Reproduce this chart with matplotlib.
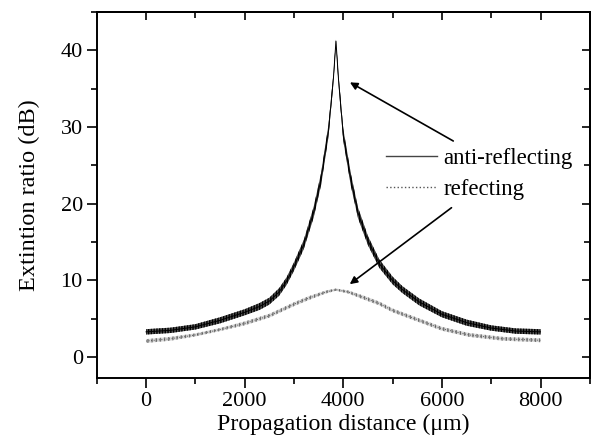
import matplotlib
matplotlib.use("Agg")
import matplotlib.pyplot as plt
from matplotlib.ticker import MultipleLocator

plt.rcParams['font.family'] = ['Liberation Serif', 'DejaVu Serif']

# anti-reflecting curve (centre of the ripple band)
anti_x = [0, 500, 1000, 1500, 2000, 2300, 2500, 2700, 2850, 3000, 3200, 3400, 3550, 3700, 3800,
          3852, 3905, 4000, 4155, 4300, 4500, 4730, 5000, 5200, 5540, 6000, 6500, 7000, 7500, 8000]
anti_y = [3.3, 3.5, 3.95, 4.8, 5.85, 6.6, 7.3, 8.5, 9.9, 11.8, 14.7, 18.9, 23.2, 29.5, 36.3,
          41.2, 36.1, 29.0, 23.1, 18.8, 15.2, 12.2, 10.0, 8.8, 7.2, 5.6, 4.5, 3.8, 3.4, 3.3]
# half height of the ripple band
anti_rip = [0.35, 0.35, 0.35, 0.4, 0.4, 0.45, 0.45, 0.5, 0.5, 0.55, 0.6, 0.7, 0.8, 0.8, 0.6,
            0.2, 0.6, 0.8, 0.8, 0.7, 0.6, 0.55, 0.5, 0.45, 0.45, 0.4, 0.4, 0.35, 0.35, 0.35]

# reflecting curve
refl_x = [0, 500, 1000, 1500, 2000, 2500, 3000, 3300, 3650, 3850, 4100, 4400, 4730,
          5000, 5540, 6000, 6550, 7230, 8000]
refl_y = [2.1, 2.4, 2.9, 3.6, 4.4, 5.4, 6.9, 7.7, 8.5, 8.8, 8.5, 7.8, 7.0,
          6.1, 4.8, 3.7, 2.9, 2.4, 2.2]
refl_rip = [0.25, 0.25, 0.2, 0.2, 0.25, 0.25, 0.25, 0.25, 0.2, 0.15, 0.2, 0.25, 0.25,
            0.25, 0.25, 0.25, 0.25, 0.25, 0.25]

anti_lo = [y - r for y, r in zip(anti_y, anti_rip)]
anti_hi = [y + r for y, r in zip(anti_y, anti_rip)]
refl_lo = [y - r for y, r in zip(refl_y, refl_rip)]
refl_hi = [y + r for y, r in zip(refl_y, refl_rip)]

fig = plt.figure(figsize=(5.91, 4.43), dpi=100)
ax = fig.add_axes([0.1636, 0.147, 0.8344, 0.826])

# ripple bands
ax.fill_between(refl_x, refl_lo, refl_hi, facecolor='#d8d8d8', edgecolor='#777777',
                hatch='||||', lw=0)
ax.plot(refl_x, refl_y, color='#555555', lw=0.7, ls=':')
ax.fill_between(anti_x, anti_lo, anti_hi, facecolor='#555555', edgecolor='black',
                hatch='||||||', lw=0)
ax.plot(anti_x, anti_y, color='black', lw=0.7)

# legend proxies
ax.plot([], [], color='#444444', lw=1.0, label='anti-reflecting')
ax.plot([], [], color='#555555', lw=1.0, ls=':', label='refecting')
ax.legend(loc='center left', bbox_to_anchor=(0.569, 0.557), frameon=False, fontsize=16.5,
          handlelength=2.2, handletextpad=0.3, labelspacing=0.45, borderaxespad=0)

# arrows
ax.annotate('', xy=(4087, 36.0), xytext=(6280, 28.0),
            arrowprops=dict(arrowstyle='-|>', color='black', lw=1.2, mutation_scale=11))
ax.annotate('', xy=(4087, 9.3), xytext=(6240, 19.7),
            arrowprops=dict(arrowstyle='-|>', color='black', lw=1.2, mutation_scale=11))

ax.set_xlim(-1000, 9000)
ax.set_ylim(-2.7, 45)
ax.xaxis.set_major_locator(MultipleLocator(2000))
ax.xaxis.set_minor_locator(MultipleLocator(1000))
ax.yaxis.set_major_locator(MultipleLocator(10))
ax.yaxis.set_minor_locator(MultipleLocator(5))
ax.tick_params(which='both', direction='out', width=1.2, labelsize=16, top=False, right=False)
ax.tick_params(which='major', length=7, pad=3)
ax.tick_params(which='minor', length=4)
for s in ax.spines.values():
    s.set_linewidth(1.4)

# inward ticks on top and right
top = ax.secondary_xaxis('top')
top.xaxis.set_major_locator(MultipleLocator(2000))
top.xaxis.set_minor_locator(MultipleLocator(1000))
top.tick_params(which='both', direction='in', width=1.2, labeltop=False)
top.tick_params(which='major', length=6)
top.tick_params(which='minor', length=4)
top.spines['top'].set_linewidth(1.4)
right = ax.secondary_yaxis('right')
right.yaxis.set_major_locator(MultipleLocator(10))
right.yaxis.set_minor_locator(MultipleLocator(5))
right.tick_params(which='both', direction='in', width=1.2, labelright=False)
right.tick_params(which='major', length=6)
right.tick_params(which='minor', length=4)
right.spines['right'].set_linewidth(1.4)

ax.set_xlabel('Propagation distance (\u03bcm)', fontsize=17.2, labelpad=2)
ax.set_ylabel('Extintion ratio (dB)', fontsize=17.5, labelpad=15)

fig.savefig('out.png', dpi=100)
